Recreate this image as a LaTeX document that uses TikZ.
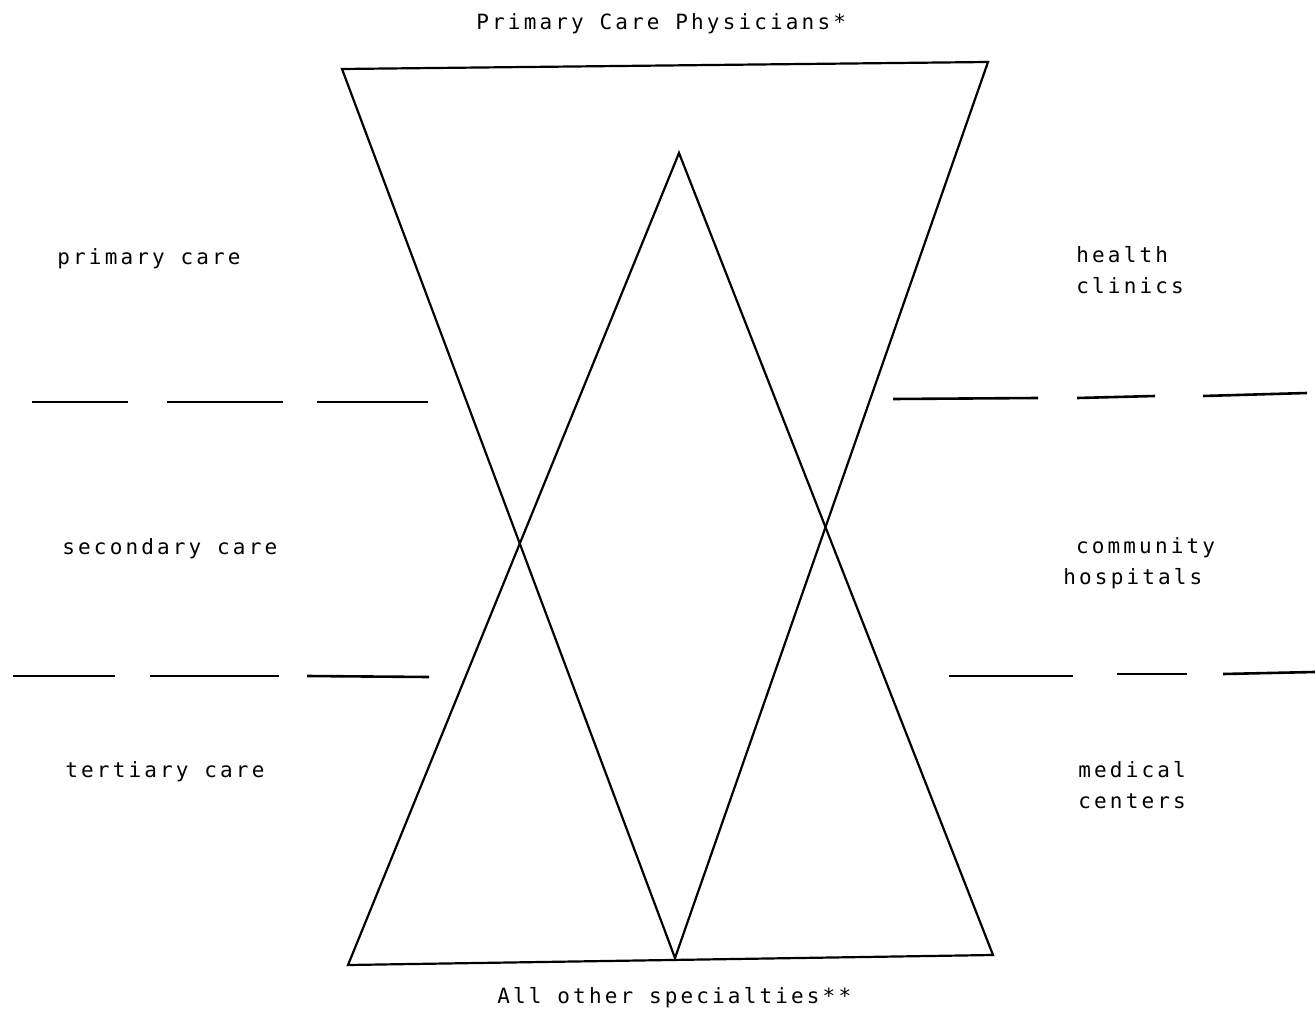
\documentclass[tikz,border=0pt]{standalone}
\usepackage{fontspec}
\newfontfamily\dotfont[LetterSpace=15]{DejaVu Sans Mono}
\usetikzlibrary{positioning}

\begin{document}
\begin{tikzpicture}[x=0.5pt, y=-0.5pt,
  tri/.style={line width=1.1pt, line join=miter},
  sep/.style={line width=1.3pt},
  lbl/.style={inner sep=0pt, anchor=base west, align=left,
    font=\dotfont\fontsize{10.5}{15.5}\selectfont}]

\useasboundingbox (0,0) rectangle (1315,1010);

% --- corners of the two triangles ---
\coordinate (tl) at (342,69);
\coordinate (tr) at (988,62);
\coordinate (tb) at (675,958);
\coordinate (ua) at (679,153);
\coordinate (ul) at (348,965);
\coordinate (ur) at (993,955);

% inverted triangle and upright triangle
\draw[tri] (tl) -- (tr) -- (tb) -- cycle;
\draw[tri] (ua) -- (ur) -- (ul) -- cycle;

% --- dashed separators between the levels ---
\foreach \a/\ya/\b/\yb in {32/402/128/402, 167/402/283/402, 317/402/428/402,
    13/676/115/676, 150/676/279/676, 307/676/429/677,
    893/399/1038/398, 1077/398/1155/396, 1203/396/1307/393,
    949/676/1073/676, 1117/674/1187/674, 1223/674/1315/672}
  \draw[sep] (\a,\ya) -- (\b,\yb);

% --- labels (base = last line) ---
\node[lbl] (top) at (476,30) {Primary Care Physicians*};
\node[lbl] (bot) at (497,1003) {All other specialties**};

\node[lbl] (pc) at (57,265) {primary care};
\node[lbl] (sc) at (62,554) {secondary care};
\node[lbl] (tc) at (65,777) {tertiary care};

\node[lbl] (hc) at (1076,293) {health\\clinics};
\node[lbl] (ch) at (1063,584) {\phantom{h}community\\hospitals};
\node[lbl] (mc) at (1078,808) {medical\\centers};
\end{tikzpicture}
\end{document}
